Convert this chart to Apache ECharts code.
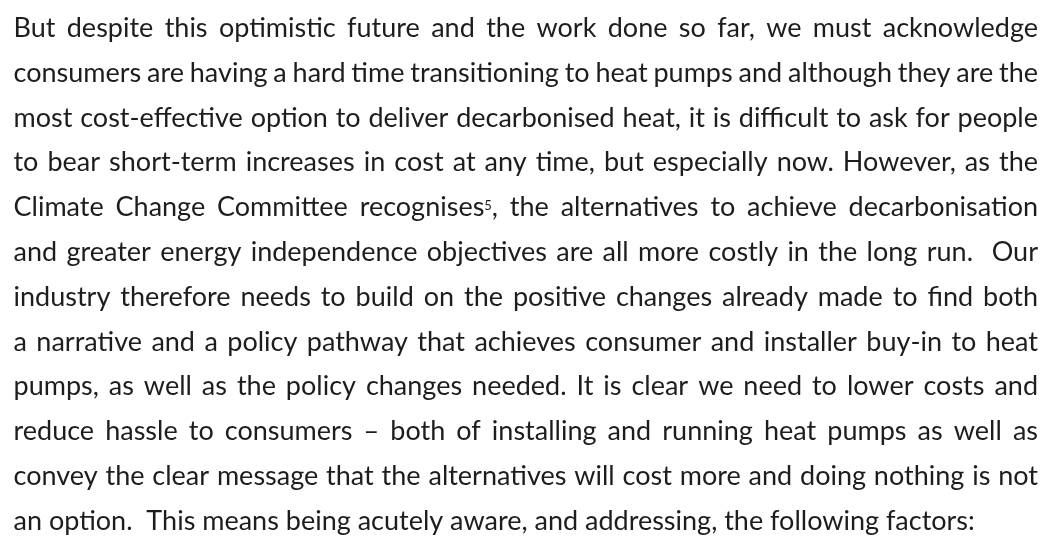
<!DOCTYPE html>
<html>
<head>
<meta charset="utf-8">
<script src="https://cdn.jsdelivr.net/npm/echarts@6/dist/echarts.min.js"></script>
<style>
html, body { margin: 0; padding: 0; background: #fff; }
#main { width: 1043px; height: 541px; }
</style>
</head>
<body>
<div id="main"></div>
<script>
// paragraph lines, as broken in the original; {x} marks a superscript
let lines = [
	'But despite this optimistic future and the work done so far, we must acknowledge',
	'consumers are having a hard time transitioning to heat pumps and although they are the',
	'most cost-effective option to deliver decarbonised heat, it is difficult to ask for people',
	'to bear short-term increases in cost at any time, but especially now. However, as the',
	'Climate Change Committee recognises{5}, the alternatives to achieve decarbonisation',
	'and greater energy independence objectives are all more costly in the long run.  Our',
	'industry therefore needs to build on the positive changes already made to find both',
	'a narrative and a policy pathway that achieves consumer and installer buy-in to heat',
	'pumps, as well as the policy changes needed. It is clear we need to lower costs and',
	'reduce hassle to consumers \u2013 both of installing and running heat pumps as well as',
	'convey the clear message that the alternatives will cost more and doing nothing is not',
	'an option.  This means being acutely aware, and addressing, the following factors:'
];

let fontFamily = 'Lato, "Noto Sans", sans-serif';
let fontSize = 27;
let supSize = 13;
let supRise = 6;
let textColor = '#1d1d1b';
let left = 13.5, right = 1038;
let firstBase = 37, lineGap = 44.8;
let minSpace = 0.45;

let ctx = document.createElement('canvas').getContext('2d');
function textWidth(str, size){
	ctx.font = size + 'px ' + fontFamily;
	ctx.textBaseline = 'alphabetic';
	return ctx.measureText(str).width;
}
// distance from the 'middle' line zrender draws on to the alphabetic baseline
function baseOffset(size){
	ctx.font = size + 'px ' + fontFamily;
	ctx.textBaseline = 'alphabetic';
	let capH = ctx.measureText('H').actualBoundingBoxAscent;
	ctx.textBaseline = 'middle';
	let midA = ctx.measureText('H').actualBoundingBoxAscent;
	return capH - midA;
}

function parseToken(t){
	let m = t.match(/^(.*)\{(.+)\}(.*)$/);
	let parts = m
		? [{text: m[1], size: fontSize, dy: 0}, {text: m[2], size: supSize, dy: -supRise}, {text: m[3], size: fontSize, dy: 0}]
		: [{text: t, size: fontSize, dy: 0}];
	let w = 0;
	for (let p of parts) { p.w = textWidth(p.text, p.size); w += p.w; }
	return {parts: parts, width: w};
}

let spaceW = textWidth(' ', fontSize);
let offMain = baseOffset(fontSize);
let offSup = baseOffset(supSize);

let elements = [];
for (let i = 0; i < lines.length; i++) {
	let tokens = lines[i].split(' ');
	let words = tokens.map(parseToken);
	let sum = words.reduce((a, w) => a + w.width, 0);
	let nGaps = tokens.length - 1;
	let avail = right - left;
	let gap = spaceW, scale = 1;
	if (i !== lines.length - 1) {
		gap = (avail - sum) / nGaps;
		if (gap < spaceW * minSpace) {
			gap = spaceW * minSpace;
			scale = avail / (sum + gap * nGaps);
		}
	}
	let children = [];
	let cx = 0;
	for (let w of words) {
		let px = cx;
		for (let p of w.parts) {
			if (p.text) {
				children.push({
					type: 'text',
					x: px,
					y: p.dy - (p.size === fontSize ? offMain : offSup),
					silent: true,
					style: {
						text: p.text,
						font: p.size + 'px ' + fontFamily,
						fill: textColor,
						align: 'left',
						verticalAlign: 'middle'
					}
				});
			}
			px += p.w;
		}
		cx += w.width + gap;
	}
	elements.push({
		type: 'group',
		x: left,
		y: firstBase + i * lineGap,
		scaleX: scale,
		children: children
	});
}

let chart = echarts.init(document.getElementById('main'));
chart.setOption({
	backgroundColor: '#ffffff',
	animation: false,
	graphic: { elements: elements }
});
</script>
</body>
</html>
